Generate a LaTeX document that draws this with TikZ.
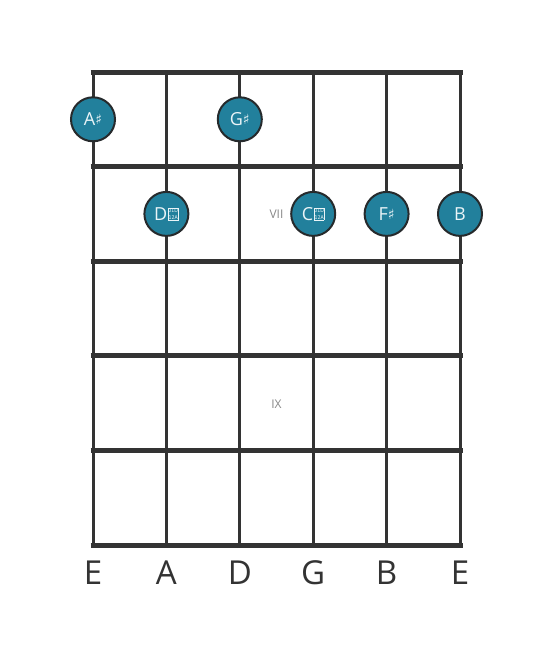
\documentclass[tikz,border=0pt]{standalone}
\usepackage{fontspec}
\setmainfont{Open Sans}
\newfontfamily\symfont{DejaVu Sans}
\newfontfamily\tofufont{DejaVu Sans Condensed}
\definecolor{fretc}{HTML}{333333}
\definecolor{notefill}{HTML}{22809C}
\definecolor{noteedge}{HTML}{262A2C}
\definecolor{notetext}{HTML}{EAF4F7}
\definecolor{posc}{HTML}{888888}
\newcommand\shp{{\symfont\fontsize{14}{14}\selectfont\raisebox{0.8pt}{♯}}}
\newcommand\dsh{\kern0.6pt\raisebox{1.2pt}{\setlength\fboxsep{0.7pt}\setlength\fboxrule{0.6pt}\fbox{\vbox{\tofufont\fontsize{5.2}{6.2}\selectfont\hbox to 8pt{\hss 01D\hss}\hbox to 8pt{\hss 12A\hss}}}}}
\tikzset{
  fretline/.style={draw=fretc, line width=5pt},
  stringline/.style={draw=fretc, line width=3pt},
  note/.style={circle, fill=notefill, draw=noteedge, line width=2pt, minimum size=44pt, inner sep=0pt, text=notetext, font=\fontsize{18}{18}\selectfont},
  poslabel/.style={text=posc, font=\fontsize{12}{12}\selectfont},
  strlabel/.style={text=fretc, font=\fontsize{33}{33}\selectfont}
}
\begin{document}
\begin{tikzpicture}[x=1pt,y=-1pt]
\useasboundingbox[fill=white] (0,0) rectangle (553,656);
% strings
\foreach \x in {93,166.4,239.8,313.2,386.6,460}
  \draw[stringline] (\x,72) -- (\x,545);
% frets
\foreach \y in {72,166.6,261.2,355.8,450.4,545}
  \draw[fretline] (90.5,\y) -- (462.5,\y);
% position markers
\node[poslabel] (vii) at (276.5,214) {VII};
\node[poslabel] (ix) at (276.5,404) {IX};
% notes
\node[note] (n1) at (93,119.3) {A\shp};
\node[note] (n2) at (239.8,119.3) {G\shp};
\node[note] (n3) at (166.4,213.9) {D\dsh};
\node[note] (n4) at (313.2,213.9) {C\dsh};
\node[note] (n5) at (386.6,213.9) {F\shp};
\node[note] (n6) at (460,213.9) {B};
% string names
\node[strlabel] (s1) at (93,573) {E};
\node[strlabel] (s2) at (166.4,573) {A};
\node[strlabel] (s3) at (239.8,573) {D};
\node[strlabel] (s4) at (313.2,573) {G};
\node[strlabel] (s5) at (386.6,573) {B};
\node[strlabel] (s6) at (460,573) {E};
\end{tikzpicture}
\end{document}
